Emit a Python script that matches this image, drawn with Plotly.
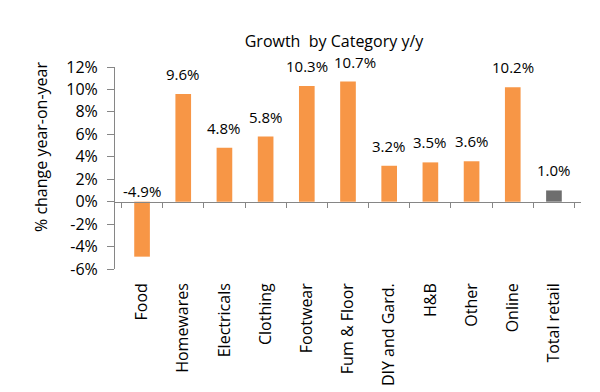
import plotly.graph_objects as go

categories = ["Food", "Homewares", "Electricals", "Clothing", "Footwear", "Fum & Floor",
              "DIY and Gard.", "H&B", "Other", "Online", "Total retail"]
growth = [-4.9, 9.6, 4.8, 5.8, 10.3, 10.7, 3.2, 3.5, 3.6, 10.2, 1.0]
bar_colors = ["#F79646"] * 10 + ["#6E6E6E"]
y_tickvals = [-6, -4, -2, 0, 2, 4, 6, 8, 10, 12]
y_ticktext = ["-6%", "-4%", "-2%", "0%", "2%", "4%", "6%", "8%", "10%", "12%"]

FONT = "Open Sans"
L, R, T, B = 107, 27, 59, 131
PW, PH = 600 - L - R, 392 - T - B
LABEL_XSHIFT = {"Fum & Floor": 7}  # label nudged right in the original to avoid overlap

fig = go.Figure()
fig.add_trace(go.Bar(x=categories, y=growth, marker=dict(color=bar_colors, line=dict(width=0)),
                     width=0.38, hoverinfo="skip", xaxis="x", yaxis="y"))
# invisible helper trace so the zero-line axis (with boundary ticks) is drawn
fig.add_trace(go.Scatter(x=categories, y=growth, mode="markers", marker=dict(opacity=0),
                         hoverinfo="skip", showlegend=False, xaxis="x2", yaxis="y"))

for c, v in zip(categories, growth):
    fig.add_annotation(x=c, y=max(v, 0), text=f"{v:.1f}%", showarrow=False,
                       yanchor="middle", yshift=20 if v >= 0 else 11,
                       xshift=LABEL_XSHIFT.get(c, 0),
                       font=dict(family=FONT, size=15, color="#000"))

# y-axis title (placed like the reference, slightly above plot centre)
fig.add_annotation(text="% change year-on-year", xref="paper", yref="paper",
                   x=(33 - L) / PW, y=(392 - B - 139) / PH, textangle=-90, showarrow=False,
                   xanchor="center", yanchor="middle", font=dict(family=FONT, size=16, color="#000"))

fig.update_layout(
    width=600, height=392,
    margin=dict(l=L, r=R, t=T, b=B),
    paper_bgcolor="white", plot_bgcolor="white",
    showlegend=False,
    title=dict(text="Growth  by Category y/y", x=326/600, xanchor="center", y=1-33/392, yanchor="middle",
               font=dict(family=FONT, size=16, color="#000")),
    xaxis=dict(type="category", showline=False, ticks="", tickangle=-90, automargin=False,
               tickfont=dict(family=FONT, size=16, color="#000"), ticklabelstandoff=10,
               showgrid=False, zeroline=False),
    xaxis2=dict(type="category", overlaying="x", matches="x", anchor="free", position=1/3, side="bottom",
                showline=True, linecolor="#868686", linewidth=1, ticks="outside", tickson="boundaries",
                ticklen=5, tickcolor="#868686", showticklabels=False, showgrid=False, zeroline=False,
                automargin=False),
    yaxis=dict(range=[-6, 12], tickvals=y_tickvals, ticktext=y_ticktext, showline=True, automargin=False,
               linecolor="#868686", linewidth=1, ticks="outside", ticklen=7, tickcolor="#868686",
               ticklabelstandoff=6,
               showgrid=False, zeroline=False, tickfont=dict(family=FONT, size=16, color="#000")),
)

fig.write_html("out.html")
